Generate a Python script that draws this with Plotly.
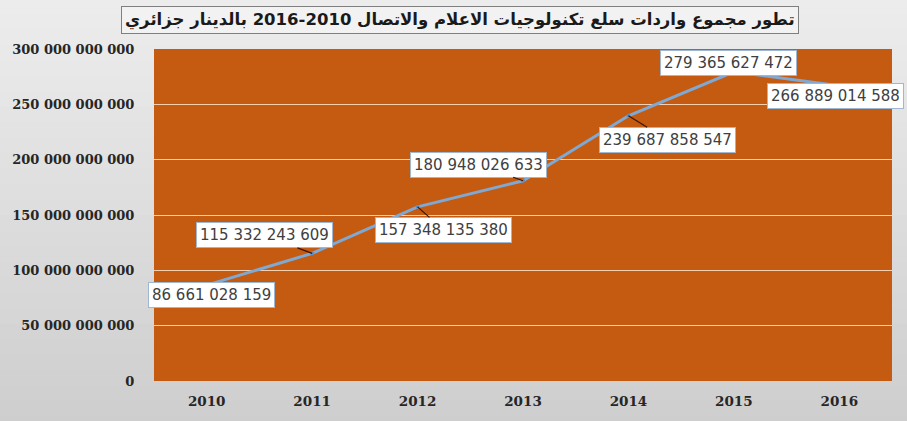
import plotly.graph_objects as go

years = ["2010", "2011", "2012", "2013", "2014", "2015", "2016"]
values = [86661028159, 115332243609, 157348135380, 180948026633,
          239687858547, 279365627472, 266889014588]
labels = ["86 661 028 159", "115 332 243 609", "157 348 135 380", "180 948 026 633",
          "239 687 858 547", "279 365 627 472", "266 889 014 588"]
y_tickvals = [0, 50e9, 100e9, 150e9, 200e9, 250e9, 300e9]
y_ticktext = ["0", "50 000 000 000", "100 000 000 000", "150 000 000 000",
              "200 000 000 000", "250 000 000 000", "300 000 000 000"]
title_text = "تطور مجموع واردات سلع تكنولوجيات الاعلام والاتصال 2010-2016 بالدينار جزائري"

# label offsets (pixels) relative to the data point
offsets = [(5, 10), (-48, -18), (26, 23), (-45, -16), (39, 24), (-5, -9), (-4, 10)]

fig = go.Figure()
fig.add_trace(go.Scatter(
    x=years, y=values, mode="lines+markers",
    line=dict(color="#7fa8d2", width=3),
    marker=dict(color="#5b8fc7", size=4),
    hoverinfo="skip", showlegend=False,
))

for i, (v, lab, (ax, ay)) in enumerate(zip(values, labels, offsets)):
    fig.add_annotation(
        x=i, y=v, xref="x", yref="y", text=lab,
        showarrow=True, arrowhead=0, arrowwidth=1.2, arrowcolor="#3a1505",
        ax=ax, ay=ay, standoff=0,
        bgcolor="white", bordercolor="#9fb7d0", borderwidth=1, borderpad=3,
        font=dict(family="DejaVu Sans, sans-serif", size=15, color="#404040"),
    )

fig.add_annotation(
    xref="paper", yref="paper", x=0.415, y=1.088, text="<b>" + title_text + "</b>",
    showarrow=False, bgcolor="#f2f2f2", bordercolor="#7f7f7f", borderwidth=1, borderpad=3,
    font=dict(family="DejaVu Sans, sans-serif", size=16.5, color="#1a1a1a"),
    xanchor="center", yanchor="middle",
)

# light-grey vertical gradient for the page background
shapes = []
n = 30
for k in range(n):
    t = k / (n - 1)
    c = int(238 - t * (238 - 205))
    shapes.append(dict(type="rect", xref="paper", yref="paper", layer="below",
                       x0=-0.3, x1=1.1,
                       y0=1.2 - (k + 1.6) * 1.4 / n, y1=1.2 - k * 1.4 / n,
                       line=dict(width=0), fillcolor=f"rgb({c},{c},{c})"))
# orange plotting area
shapes.append(dict(type="rect", xref="x domain", yref="y domain", layer="below",
                   x0=0, x1=1, y0=0, y1=1, line=dict(width=0), fillcolor="#c55a11"))

fig.update_layout(
    width=907, height=421,
    margin=dict(l=153, r=15, t=49, b=38),
    paper_bgcolor="#dcdcdc",
    plot_bgcolor="rgba(0,0,0,0)",
    shapes=shapes,
    font=dict(family="DejaVu Serif, serif"),
    xaxis=dict(
        type="category", range=[-0.5, 6.5], showgrid=False, zeroline=False,
        ticks="outside", ticklen=8, tickcolor="rgba(0,0,0,0)",
        tickvals=years, ticktext=["<b>" + y + "</b>" for y in years],
        tickfont=dict(family="DejaVu Serif, serif", size=13.5, color="#262626"),
        showline=False,
    ),
    yaxis=dict(
        range=[0, 300e9], tickvals=y_tickvals,
        ticktext=["<b>" + t + "</b>" for t in y_ticktext],
        showgrid=True, gridcolor="#f6cfae", gridwidth=1, zeroline=False,
        ticks="outside", ticklen=16, tickcolor="rgba(0,0,0,0)",
        tickfont=dict(family="DejaVu Serif, serif", size=13, color="#262626"),
    ),
)

fig.write_html("out.html")
